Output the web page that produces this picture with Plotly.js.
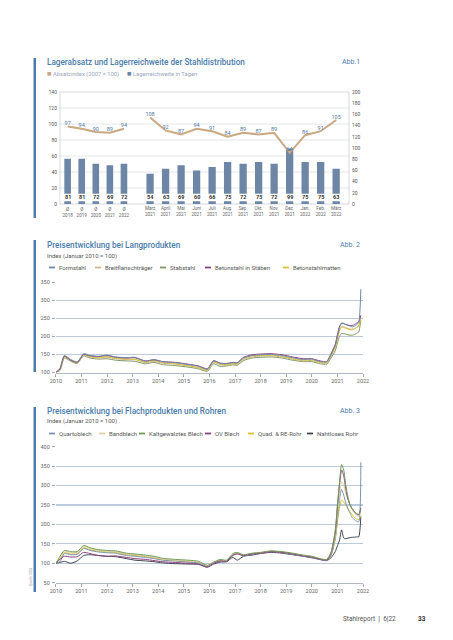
<!DOCTYPE html>
<html>
<head>
<meta charset="utf-8">
<script src="https://cdn.plot.ly/plotly-3.0.1.min.js"></script>
<style>html,body{margin:0;padding:0;background:#fff;}#chart{width:453px;height:640px;}</style>
</head>
<body>
<div id="chart"></div>
<script>
// ---------- Abb. 1 data ----------
const avgCats = ['Ø<br>2018','Ø<br>2019','Ø<br>2020','Ø<br>2021','Ø<br>2022'];
const monthCats = ['März<br>2021','April<br>2021','Mai<br>2021','Juni<br>2021','Juli<br>2021','Aug.<br>2021','Sep.<br>2021','Okt.<br>2021','Nov.<br>2021','Dez.<br>2021','Jan.<br>2022','Feb.<br>2022','März<br>2022'];
const absatzAvg = [97, 94, 90, 89, 94];
const absatzMonth = [108, 92, 87, 94, 91, 84, 89, 87, 89, 64, 86, 91, 105];
const reichweiteAvg = [81, 81, 72, 69, 72];
const reichweiteMonth = [54, 63, 69, 60, 66, 75, 72, 75, 72, 99, 75, 75, 63];
const leftTicks = [0, 20, 40, 60, 80, 100, 120, 140];
const rightTicks = [0, 20, 40, 60, 80, 100, 120, 140, 160, 180, 200];

// ---------- Abb. 2 / Abb. 3 data ----------
const dates = ['2010-01','2010-03','2010-05','2010-08','2010-11','2011-02','2011-05','2011-09','2012-01','2012-05','2012-10','2013-02','2013-07','2013-11','2014-03','2014-09','2015-03','2015-08','2015-12','2016-03','2016-06','2016-09','2016-12','2017-02','2017-05','2017-09','2018-01','2018-06','2018-11','2019-04','2019-09','2020-01','2020-05',
  '2020-08','2020-10','2020-12','2021-01','2021-02','2021-03','2021-04','2021-05','2021-06','2021-07','2021-08','2021-09','2021-10','2021-11','2021-12'];
const yearTicks = ['2010','2011','2012','2013','2014','2015','2016','2017','2018','2019','2020','2021','2022'];

const langNames = ['Formstahl','Breitflanschträger','Stabstahl','Betonstahl in Stäben','Betonstahlmatten'];
const formstahl = [100,112,147,136,129,152,147,145,148,143,141,142,131,136,130,127,122,117,109,133,125,124,127,126,140,147,149,150,147,141,136,137,130,
  130,150,175,200,225,237,236,232,230,228,226,228,232,238,330];
const breitflansch = [100,108,143,133,126,148,143,140,142,138,136,136,127,131,126,123,118,113,106,128,121,120,123,122,136,143,145,146,143,137,132,133,126,
  126,144,168,192,215,228,227,224,222,220,220,222,225,230,252];
const stabstahl = [100,106,140,131,125,146,140,137,138,134,132,131,124,128,122,119,115,110,103,124,117,118,121,120,133,140,142,143,140,134,130,130,124,
  123,140,160,182,200,208,207,206,204,203,203,205,208,212,245];
const betonStaeben = [100,110,145,134,128,150,146,144,147,142,140,141,132,135,130,128,123,118,110,132,126,125,128,127,142,149,151,152,149,143,138,138,132,
  130,152,178,205,228,235,235,233,231,230,230,232,236,240,258];
const betonMatten = [100,109,144,133,127,149,144,141,144,139,137,137,129,133,127,124,119,114,107,130,123,122,125,124,138,146,147,148,145,139,134,135,128,
  127,147,170,195,218,225,224,222,220,218,218,220,224,228,250];

const flachNames = ['Quartoblech','Bandblech','Kaltgewalztes Blech','OV Blech','Quad. & RE-Rohr','Nahtloses Rohr'];
const quartoblech = [100,104,125,122,123,138,133,129,127,126,120,118,115,112,108,106,103,101,92,100,106,105,121,125,119,123,126,130,128,123,118,115,109,
  107,120,165,215,265,290,275,255,240,228,218,212,208,207,360];
const bandblech = [100,115,131,127,128,143,138,133,131,130,124,122,119,116,111,108,106,103,94,102,108,107,124,127,121,125,127,131,129,125,120,117,111,
  109,125,170,225,280,310,300,280,262,248,238,230,224,220,232];
const kaltgewalzt = [100,118,133,130,130,146,140,135,133,132,126,124,121,118,113,110,108,105,95,103,110,108,125,128,122,126,128,132,130,126,121,118,112,
  110,128,185,250,310,354,340,300,270,250,240,232,226,224,240];
const ovBlech = [100,110,118,116,117,128,125,120,118,119,115,112,110,107,104,102,100,98,90,100,106,105,120,124,120,124,126,130,128,124,119,116,110,
  108,126,180,245,305,340,325,290,265,250,240,233,228,225,242];
const quadRohr = [100,112,127,124,125,140,135,131,129,128,122,120,117,114,109,107,104,102,93,101,107,106,122,126,120,124,127,131,129,124,119,116,110,
  108,120,160,205,245,263,258,250,240,232,225,218,214,212,222];
const nahtlos = [100,102,105,100,106,120,122,120,118,117,112,108,106,104,101,99,98,97,90,98,103,104,115,108,118,121,125,128,126,122,118,114,110,
  107,114,130,145,160,186,165,163,165,166,167,167,168,168,220];

// ---------- styling ----------
const W = 453, H = 640;
const px = v => v / W;
const py = v => 1 - v / H;
const FONT = 'Roboto, "Open Sans", sans-serif';
const BLUE = '#4a7cab';
const BAR = '#6e86a5';
const TAN = '#c9a882';
const langColors = ['#6f89a8', '#cbbb8c', '#7d9660', '#8b3f7f', '#dcc238'];
const flachColors = ['#7a93b0', '#d9cf9f', '#6f9a5a', '#8b3f7f', '#d9c030', '#3f4650'];

const traces = [];
// Abb.1 bars (right axis, main y)
traces.push({type:'bar', x:avgCats, y:reichweiteAvg, xaxis:'x', yaxis:'y', marker:{color:BAR}, hoverinfo:'skip', showlegend:false});
traces.push({type:'bar', x:monthCats, y:reichweiteMonth, xaxis:'x2', yaxis:'y', marker:{color:BAR}, hoverinfo:'skip', showlegend:false});
// Abb.1 line (left axis, overlay y2)
const lineStyle = {color:TAN, width:2};
traces.push({type:'scatter', mode:'lines+text', x:avgCats, y:absatzAvg, xaxis:'x', yaxis:'y2', line:lineStyle,
  text:absatzAvg.map(String), textposition:'top center', textfont:{family:FONT, size:5.5, color:'#4f77a3'}, showlegend:false, cliponaxis:false});
traces.push({type:'scatter', mode:'lines+text', x:monthCats, y:absatzMonth, xaxis:'x2', yaxis:'y2', line:lineStyle,
  text:absatzMonth.map(String), textposition:'top center', textfont:{family:FONT, size:5.5, color:'#4f77a3'}, showlegend:false, cliponaxis:false});

// Abb.2 lines
const langSeries = [formstahl, breitflansch, stabstahl, betonStaeben, betonMatten];
[2, 1, 4, 3, 0].forEach(i => {
  traces.push({type:'scatter', mode:'lines', x:dates, y:langSeries[i], xaxis:'x3', yaxis:'y3',
    line:{color:langColors[i], width:1, shape:'spline', smoothing:0.6}, name:langNames[i], showlegend:false, hoverinfo:'skip'});
});
// Abb.3 lines
const flachSeries = [quartoblech, bandblech, kaltgewalzt, ovBlech, quadRohr, nahtlos];
[5, 4, 0, 1, 3, 2].forEach(i => {
  traces.push({type:'scatter', mode:'lines', x:dates, y:flachSeries[i], xaxis:'x4', yaxis:'y4',
    line:{color:flachColors[i], width:1, shape:'spline', smoothing:0.6}, name:flachNames[i], showlegend:false, hoverinfo:'skip'});
});

const annotations = [];
const shapes = [];
const ann = (x, y, text, opts) => annotations.push(Object.assign({xref:'paper', yref:'paper', x:px(x), y:py(y), text, showarrow:false,
  xanchor:'left', yanchor:'middle', font:{family:FONT, size:6, color:'#555'}}, opts || {}));

// accent bars
[[58, 218], [240, 372], [407, 592]].forEach(([a, b]) => shapes.push({type:'rect', xref:'paper', yref:'paper',
  x0:px(33.5), x1:px(36), y0:py(b), y1:py(a), fillcolor:BLUE, line:{width:0}}));

// titles
const titleFont = {family:FONT, size:8.2, color:BLUE, weight:500};
ann(45, 62, 'Lagerabsatz und Lagerreichweite der Stahldistribution', {font:titleFont});
ann(362, 62, 'Abb.1', {xanchor:'right', font:{family:FONT, size:7, color:BLUE}});
ann(45, 245, 'Preisentwicklung bei Langprodukten', {font:titleFont});
ann(362, 245, 'Abb. 2', {xanchor:'right', font:{family:FONT, size:7, color:BLUE}});
ann(45, 256, 'Index (Januar 2010 = 100)', {font:{family:FONT, size:6, color:'#555'}});
ann(45, 411, 'Preisentwicklung bei Flachprodukten und Rohren', {font:titleFont});
ann(362, 411, 'Abb. 3', {xanchor:'right', font:{family:FONT, size:7, color:BLUE}});
ann(45, 421, 'Index (Januar 2010 = 100)', {font:{family:FONT, size:6, color:'#555'}});

// Abb.1 legend
ann(45, 74, '<span style="color:' + TAN + ';font-size:7.5px">■</span> Absatzindex (2007 = 100)', {font:{family:FONT, size:5.8, color:'#97a6b8'}});
ann(125, 74, '<span style="color:' + BAR + ';font-size:7.5px">■</span> Lagerreichweite in Tagen', {font:{family:FONT, size:5.8, color:'#97a6b8'}});

// Abb.2 legend
const langLegendX = [49, 95, 160, 205, 283];
langNames.forEach((n, i) => {
  shapes.push({type:'line', xref:'paper', yref:'paper', x0:px(langLegendX[i]), x1:px(langLegendX[i] + 6), y0:py(267.5), y1:py(267.5), line:{color:langColors[i], width:1.8}});
  ann(langLegendX[i] + 7.5, 267, n, {font:{family:FONT, size:6, color:'#555'}});
});
// Abb.3 legend
const flachLegendX = [49, 99, 139, 205, 248, 307];
flachNames.forEach((n, i) => {
  shapes.push({type:'line', xref:'paper', yref:'paper', x0:px(flachLegendX[i]), x1:px(flachLegendX[i] + 6), y0:py(433.5), y1:py(433.5), line:{color:flachColors[i], width:1.8}});
  ann(flachLegendX[i] + 7.5, 433, n, {font:{family:FONT, size:6, color:'#555'}});
});

// Abb.1 frame, gridlines, label band
leftTicks.slice(1, -1).forEach(v => shapes.push({type:'line', xref:'paper', yref:'y2', x0:px(60), x1:px(349), y0:v, y1:v, line:{color:'#dcdfe4', width:0.8}, layer:'below'}));
shapes.push({type:'rect', xref:'paper', yref:'paper', x0:px(60), x1:px(349), y0:py(204), y1:py(92), line:{color:'#c9cdd3', width:0.8}, layer:'below'});
shapes.push({type:'rect', xref:'paper', yref:'y', x0:px(60.5), x1:px(348.5), y0:5, y1:18.5, fillcolor:'#fff', line:{width:0}, layer:'above'});
const barLabelFont = {family:FONT, size:5.5, color:'#333', weight:700};
avgCats.forEach((c, i) => annotations.push({xref:'x', yref:'y', x:c, y:11.8, text:String(reichweiteAvg[i]), showarrow:false, font:barLabelFont}));
monthCats.forEach((c, i) => annotations.push({xref:'x2', yref:'y', x:c, y:11.8, text:String(reichweiteMonth[i]), showarrow:false, font:barLabelFont}));

// footer
ann(341, 619, 'Stahlreport  <b>|</b>  6|22', {font:{family:FONT, size:6.5, color:'#555'}});
ann(416, 619, '<b>33</b>', {font:{family:FONT, size:6.5, color:'#333'}});
ann(31, 577, 'Quelle: BDS', {xanchor:'center', textangle:-90, font:{family:FONT, size:3.5, color:'#999'}});

const catTickFont = {family:FONT, size:4.6, color:'#666'};
const smallTick = {family:FONT, size:5, color:'#555'};
const yearTickFont = {family:FONT, size:5.5, color:'#666'};

const d1 = [py(204), py(92)];
const layout = {
  width: W, height: H,
  margin: {l:0, r:0, t:0, b:0},
  paper_bgcolor:'#fff', plot_bgcolor:'rgba(0,0,0,0)',
  showlegend:false,
  bargap:0.53,
  font:{family:FONT},
  xaxis:{domain:[px(60.6), px(131)], type:'category', tickfont:catTickFont, showgrid:false, zeroline:false, showline:false, ticks:'', ticklabelstandoff:1, fixedrange:true},
  xaxis2:{domain:[px(139.75), px(346.5)], type:'category', tickfont:catTickFont, showgrid:false, zeroline:false, showline:false, ticks:'', anchor:'y', fixedrange:true},
  yaxis:{domain:d1, range:[0, 200], tickvals:rightTicks, side:'right', anchor:'free', position:px(349), showgrid:false, zeroline:false, tickfont:smallTick, ticklabelstandoff:2, fixedrange:true},
  yaxis2:{range:[0, 140], tickvals:leftTicks, side:'left', overlaying:'y', anchor:'free', position:px(60), showgrid:false, zeroline:false, tickfont:smallTick, ticklabelstandoff:3, fixedrange:true},

  xaxis3:{domain:[px(55.9), px(363)], type:'date', range:['2010-01-01', '2022-01-01'], tickvals:yearTicks.map(y => y + '-01-01'), ticktext:yearTicks,
    tickfont:yearTickFont, ticks:'outside', ticklen:3, tickcolor:'#aaa', showline:true, linecolor:'#b0b8c2', linewidth:1, showgrid:false, zeroline:false, anchor:'y3'},
  yaxis3:{domain:[py(372.5), py(282)], range:[100, 350], tickvals:[100, 150, 200, 250, 300, 350], tickfont:yearTickFont, ticks:'outside', ticklen:3, tickcolor:'#aaa',
    showgrid:true, gridcolor:'#bccadb', gridwidth:1.2, zeroline:false, anchor:'x3', ticklabelstandoff:1},

  xaxis4:{domain:[px(55.9), px(363)], type:'date', range:['2010-01-01', '2022-01-01'], tickvals:yearTicks.map(y => y + '-01-01'), ticktext:yearTicks,
    tickfont:yearTickFont, ticks:'outside', ticklen:3, tickcolor:'#aaa', showline:true, linecolor:'#b0b8c2', linewidth:1, showgrid:false, zeroline:false, anchor:'y4'},
  yaxis4:{domain:[py(582.7), py(446.7)], range:[50, 400], tickvals:[50, 100, 150, 200, 250, 300, 350, 400], tickfont:yearTickFont, ticks:'outside', ticklen:3, tickcolor:'#aaa',
    showgrid:true, gridcolor:'#bccadb', gridwidth:1.2, zeroline:false, anchor:'x4', ticklabelstandoff:1},

  shapes, annotations
};

Plotly.newPlot('chart', traces, layout, {displayModeBar:false, staticPlot:true});
</script>
</body>
</html>
